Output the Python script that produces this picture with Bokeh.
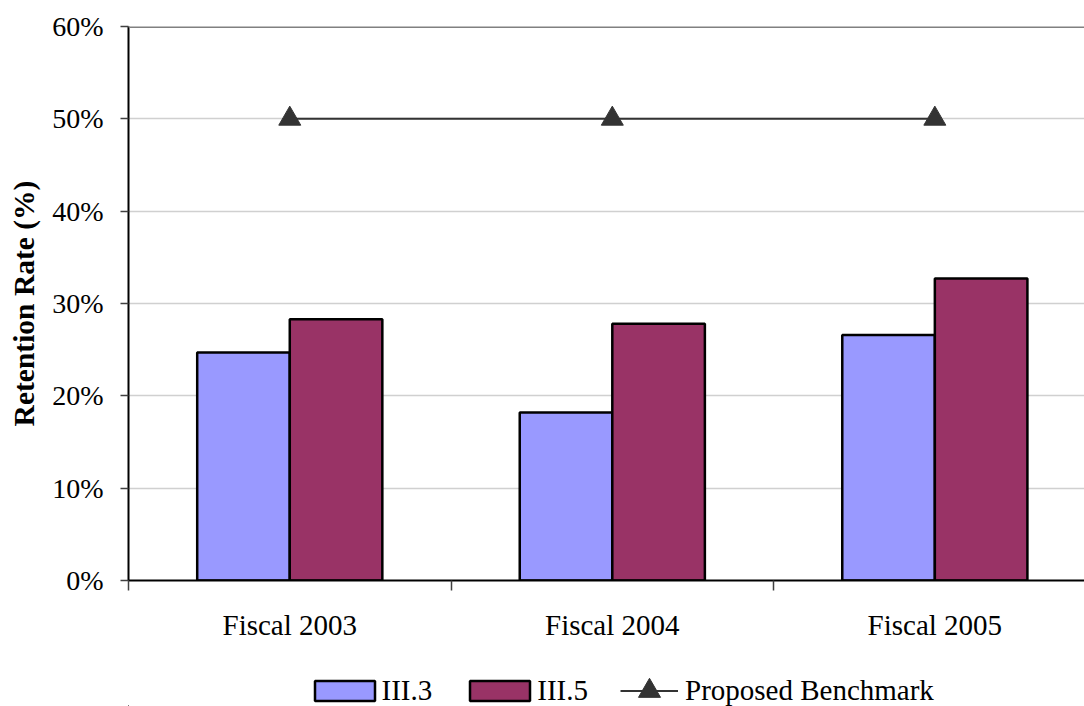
from bokeh.plotting import figure
from bokeh.layouts import column
from bokeh.models import (Range1d, FixedTicker, ColumnDataSource, Legend, LegendItem,
                          Span, CustomJSTickFormatter)
from bokeh.embed import file_html
from bokeh.resources import INLINE
import numpy as np

categories = ["Fiscal 2003", "Fiscal 2004", "Fiscal 2005"]
iii3 = [24.7, 18.2, 26.6]
iii5 = [28.3, 27.8, 32.7]
benchmark = [50, 50, 50]
y_ticks = [0, 10, 20, 30, 40, 50, 60]
series_names = ["III.3", "III.5", "Proposed Benchmark"]

FONT = "Liberation Serif"
C3, C5, CB = "#9999FF", "#993366", "#333333"
centers = np.arange(len(categories)) + 0.5
bw = 0.287
LEFT = 128

src = ColumnDataSource(dict(
    x3=centers - bw / 2, x5=centers + bw / 2, xc=centers,
    iii3=iii3, iii5=iii5, bench=benchmark,
))

p = figure(width=1084, height=650, output_backend="svg", toolbar_location=None,
           x_range=Range1d(0, 2.964), y_range=Range1d(0, 60),
           min_border_top=26, min_border_right=0, min_border_left=LEFT, min_border_bottom=70)
p.outline_line_color = None
p.background_fill_color = "white"
p.border_fill_color = "white"

# grid
p.xgrid.grid_line_color = None
p.ygrid.ticker = FixedTicker(ticks=y_ticks[1:-1])
p.ygrid.grid_line_color = "#d0d0d0"
p.ygrid.grid_line_width = 1.5
top = Span(location=60, dimension="width", line_color="#808080", line_width=3)
p.add_layout(top)

p.vbar(x="x3", top="iii3", width=bw, source=src, fill_color=C3,
       line_color="black", line_width=2.5)
p.vbar(x="x5", top="iii5", width=bw, source=src, fill_color=C5,
       line_color="black", line_width=2.5)
p.line(x="xc", y="bench", source=src, line_color=CB, line_width=2)
p.scatter(x="xc", y="bench", source=src, marker="triangle", size=22,
          fill_color=CB, line_color=CB)

# y axis
yax = p.yaxis[0]
yax.ticker = FixedTicker(ticks=y_ticks)
yax.formatter = CustomJSTickFormatter(code="return tick + '%';")
yax.major_label_text_font = FONT
yax.major_label_text_font_size = "28px"
yax.major_label_text_color = "black"
yax.major_tick_out = 8
yax.major_tick_in = 0
yax.major_tick_line_color = "#404040"
yax.major_tick_line_width = 1.5
yax.minor_tick_line_color = None
yax.axis_line_color = "black"
yax.axis_line_width = 2
yax.axis_label = "Retention Rate (%)"
yax.axis_label_text_font = FONT
yax.axis_label_text_font_style = "bold"
yax.axis_label_text_font_size = "29.5px"
yax.axis_label_text_color = "black"
yax.axis_label_standoff = 9
yax.major_label_standoff = 17

# x axis
xax = p.xaxis[0]
xax.ticker = FixedTicker(ticks=list(centers), minor_ticks=[0, 1, 2, 3])
xax.major_label_overrides = {float(c): n for c, n in zip(centers, categories)}
xax.major_label_text_font = FONT
xax.major_label_text_font_size = "29px"
xax.major_label_text_color = "black"
xax.major_tick_line_color = None
xax.minor_tick_out = 10
xax.minor_tick_in = 0
xax.minor_tick_line_color = "#404040"
xax.minor_tick_line_width = 1.5
xax.axis_line_color = "black"
xax.axis_line_width = 2
xax.major_label_standoff = 18

# legend strip (its frame is aligned with the main frame by the column layout)
q = figure(width=1084, height=56, output_backend="svg", toolbar_location=None,
           x_range=Range1d(0, 1), y_range=Range1d(0, 1),
           min_border=0, min_border_left=LEFT, x_axis_location=None, y_axis_location=None)
q.outline_line_color = None
q.xgrid.grid_line_color = None
q.ygrid.grid_line_color = None
q.border_fill_color = "white"
# legend proxies, placed outside the visible ranges
d3 = q.vbar(x=[-10], top=[-10], bottom=[-11], width=0.1,
            fill_color=C3, line_color="black", line_width=2.5)
d5 = q.vbar(x=[-10], top=[-10], bottom=[-11], width=0.1,
            fill_color=C5, line_color="black", line_width=2.5)
dl = q.line(x=[-10, -9], y=[-10, -10], line_color=CB, line_width=2)
ds = q.scatter(x=[-10], y=[-10], marker="triangle", size=22,
               fill_color=CB, line_color=CB)


def style(lg):
    lg.orientation = "horizontal"
    lg.label_text_font = FONT
    lg.label_text_font_size = "29px"
    lg.label_text_color = "black"
    lg.border_line_color = None
    lg.background_fill_alpha = 0
    lg.padding = 0
    lg.margin = 0


leg1 = Legend(items=[LegendItem(label=series_names[0], renderers=[d3]),
                     LegendItem(label=series_names[1], renderers=[d5])],
              location=(306.5 - LEFT, -1))
style(leg1)
leg1.glyph_width = 75
leg1.glyph_height = 25
leg1.label_standoff = -3
leg1.spacing = 30
q.add_layout(leg1, "center")

leg2 = Legend(items=[LegendItem(label=series_names[2], renderers=[dl, ds])],
              location=(620 - LEFT, -12))
style(leg2)
leg2.glyph_width = 58
leg2.glyph_height = 55
leg2.label_standoff = 7
q.add_layout(leg2, "center")

layout = column(p, q, spacing=0)
open("out.html", "w").write(file_html(layout, INLINE))
